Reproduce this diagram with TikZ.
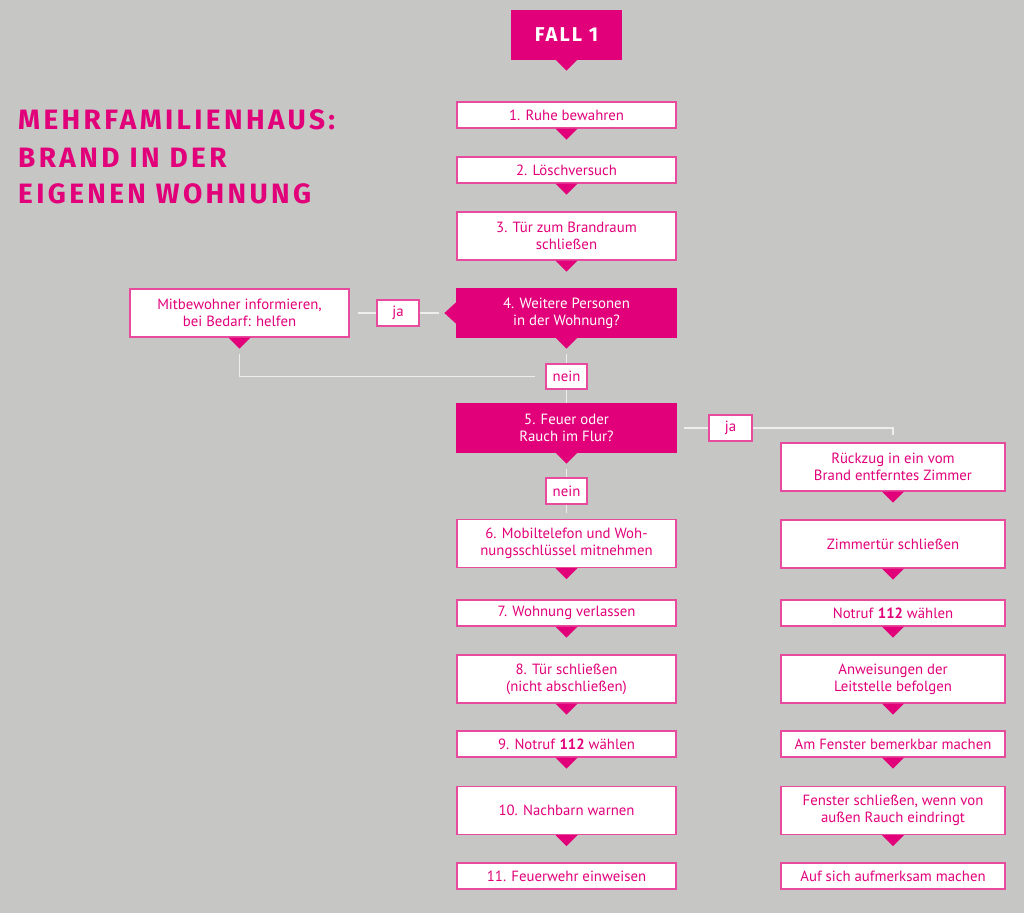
\documentclass[tikz,border=0pt]{standalone}
\usepackage{fontspec}
\setmainfont{PT Sans}
\newfontfamily\titlefont[LetterSpace=12]{Fira Sans}
\newfontfamily\fallfont[LetterSpace=10]{Fira Sans}
\definecolor{bg}{HTML}{C6C6C4}
\definecolor{mag}{HTML}{E2007A}
\definecolor{brd}{HTML}{E84B9E}
\definecolor{ln}{HTML}{EEEEEE}
\newcommand\ptr[1]{\fill[mag] ([xshift=-11pt]#1.south) -- ([xshift=11pt]#1.south) -- ([yshift=-11pt]#1.south) -- cycle;}
\begin{document}
\begin{tikzpicture}[x=1pt,y=-1pt,
 box/.style={draw=brd, line width=1.2pt, fill=white, text=mag, minimum width=219pt, minimum height=26pt, inner sep=0pt, align=center, font=\fontsize{14.8}{17}\selectfont},
 rbox/.style={box, minimum width=224pt},
 tall/.style={minimum height=48pt},
 hot/.style={fill=mag, draw=mag, text=white},
 lbl/.style={box, minimum width=42pt, minimum height=26pt},
 conn/.style={draw=ln, line width=1.2pt},
 ttl/.style={anchor=base west, text=mag, inner sep=0pt, font=\titlefont\bfseries\fontsize{28}{30}\selectfont},
]
\fill[bg] (0,0) rectangle (1024,913);
\useasboundingbox (0,0) rectangle (1024,913);

% title
\node[ttl] (t1) at (18,129) {MEHRFAMILIENHAUS:};
\node[ttl] (t2) at (18,167) {BRAND IN DER};
\node[ttl] (t3) at (18,203) {EIGENEN WOHNUNG};

% main column
\node[box, hot, minimum width=109pt, minimum height=48pt, font=\fallfont\bfseries\fontsize{20}{22}\selectfont] (fall) at (566.5,35) {FALL 1};
\node[box] (b1) at (566.5,115) {1. Ruhe bewahren};
\node[box] (b2) at (566.5,170) {2. Löschversuch};
\node[box, tall] (b3) at (566.5,236) {3. Tür zum Brandraum\\schließen};
\node[box, tall, hot] (b4) at (566.5,313) {4. Weitere Personen\\in der Wohnung?};
\node[lbl, minimum width=41pt, minimum height=25pt] (n1) at (566.5,376.5) {nein};
\node[box, tall, hot] (b5) at (566.5,428) {5. Feuer oder\\Rauch im Flur?};
\node[lbl, minimum width=41pt] (n2) at (566.5,491) {nein};
\node[box, tall] (b6) at (566.5,543.5) {6. Mobiltelefon und Woh-\\nungsschlüssel mitnehmen};
\node[box] (b7) at (566.5,613) {7. Wohnung verlassen};
\node[box, tall] (b8) at (566.5,679) {8. Tür schließen\\(nicht abschließen)};
\node[box] (b9) at (566.5,744) {9. Notruf \textbf{112} wählen};
\node[box, tall] (b10) at (566.5,810.5) {10. Nachbarn warnen};
\node[box] (b11) at (566.5,876) {11. Feuerwehr einweisen};

% left branch
\node[box, tall] (mit) at (239.5,313) {Mitbewohner informieren,\\bei Bedarf: helfen};
\node[lbl] (ja1) at (398,313) {ja};

% right column
\node[lbl, minimum width=43pt] (ja2) at (730.5,428) {ja};
\node[rbox, tall] (r1) at (893,467) {Rückzug in ein vom\\Brand entferntes Zimmer};
\node[rbox, tall] (r2) at (893,544) {Zimmertür schließen};
\node[rbox] (r3) at (893,613) {Notruf \textbf{112} wählen};
\node[rbox, tall] (r4) at (893,679) {Anweisungen der\\Leitstelle befolgen};
\node[rbox] (r5) at (893,744) {Am Fenster bemerkbar machen};
\node[rbox, tall] (r6) at (893,810.5) {Fenster schließen, wenn von\\außen Rauch eindringt};
\node[rbox] (r7) at (893,876) {Auf sich aufmerksam machen};

% connectors
\draw[conn, shorten <=8pt] (mit.east) -- (ja1.west);
\draw[conn, shorten >=17pt] (ja1.east) -- (b4.west);
\draw[conn, shorten <=16pt] (b4.south) -- (n1.north);
\draw[conn] (n1.south) -- (b5.north);
\draw[conn, shorten <=16pt, shorten >=10pt] (mit.south) |- (n1.west);
\draw[conn, shorten <=16pt] (b5.south) -- (n2.north);
\draw[conn, shorten >=6pt] (n2.south) -- (b6.north);
\draw[conn, shorten <=7pt] (b5.east) -- (ja2.west);
\draw[conn, shorten >=7pt] (ja2.east) -| (r1.north);

% pointers
\foreach \n in {fall,b1,b2,b3,b4,b5,b6,b7,b8,b9,b10,mit,r1,r2,r3,r4,r5,r6}{\ptr{\n}}
\fill[mag] ([yshift=11pt]b4.west) -- ([yshift=-11pt]b4.west) -- ([xshift=-12pt]b4.west) -- cycle;
\end{tikzpicture}
\end{document}
